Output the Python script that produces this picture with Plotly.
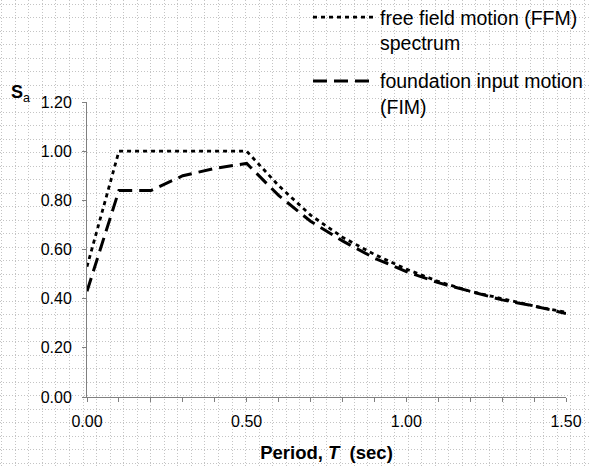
import plotly.graph_objects as go

W, H = 589, 466

period = [0.0, 0.1, 0.2, 0.3, 0.4, 0.5, 0.6, 0.7, 0.8, 0.9, 1.0, 1.1, 1.2, 1.3, 1.4, 1.5]
ffm = [0.53, 1.00, 1.00, 1.00, 1.00, 1.00, 0.86, 0.74, 0.65, 0.58, 0.52, 0.47, 0.43, 0.40, 0.37, 0.345]
fim = [0.43, 0.84, 0.84, 0.90, 0.93, 0.95, 0.82, 0.715, 0.635, 0.565, 0.51, 0.465, 0.43, 0.395, 0.37, 0.34]

x_ticks = [0.0, 0.5, 1.0, 1.5]
x_ticktext = ["0.00", "0.50", "1.00", "1.50"]
y_ticks = [0.0, 0.2, 0.4, 0.6, 0.8, 1.0, 1.2]
y_ticktext = ["0.00", "0.20", "0.40", "0.60", "0.80", "1.00", "1.20"]

names = ["free field motion (FFM)<br>spectrum", "foundation input motion<br>(FIM)"]

FONT = "Liberation Sans, Arial, sans-serif"

# plot area in pixels
L, R, T, B = 87, 566, 102, 397

fig = go.Figure()

# invisible trace to create the background (paper grid) subplot
fig.add_trace(go.Scatter(x=[None], y=[None], xaxis="x", yaxis="y",
                         showlegend=False, hoverinfo="skip"))

fig.add_trace(go.Scatter(
    x=period, y=ffm, mode="lines", name=names[0],
    line=dict(color="black", width=2.8, dash="4px,4px"),
    xaxis="x2", yaxis="y2", legendgroup="a"))
fig.add_trace(go.Scatter(
    x=period, y=fim, mode="lines", name=names[1],
    line=dict(color="black", width=3, dash="14px,7px"),
    xaxis="x2", yaxis="y2", legendgroup="b"))

grid_style = dict(showgrid=True, gridcolor="#c4c4c4", gridwidth=1, griddash="1px,2px",
                  zeroline=False, showticklabels=False, ticks="", showline=False,
                  fixedrange=True, automargin=False)

fig.update_layout(
    width=W, height=H,
    margin=dict(l=0, r=0, t=0, b=0, autoexpand=False),
    paper_bgcolor="white",
    plot_bgcolor="rgba(0,0,0,0)",
    font=dict(family=FONT, color="black", size=16),
    xaxis=dict(domain=[0, 1], range=[0, W], tick0=1.7, dtick=13.55, anchor="y", **grid_style),
    yaxis=dict(domain=[0, 1], range=[H, 0], tick0=4.2, dtick=13.5, anchor="x", **grid_style),
    xaxis2=dict(
        domain=[L / W, R / W], range=[0, 1.5], anchor="y2", automargin=False,
        showgrid=False, zeroline=False, showline=True, linecolor="#808080", linewidth=1,
        ticks="outside", ticklen=4, tickcolor="#808080", tickwidth=1,
        tickvals=x_ticks, ticktext=x_ticktext, ticklabelstandoff=6,
        minor=dict(dtick=0.1, tick0=0, ticks="outside", ticklen=4, tickcolor="#808080", showgrid=False),
        tickfont=dict(size=16, family=FONT),
        title=dict(text="<b>Period, <i>T</i>  (sec)</b>", font=dict(size=18.5, family=FONT), standoff=16),
        fixedrange=True,
    ),
    yaxis2=dict(
        domain=[(H - B) / H, (H - T) / H], range=[0, 1.2], anchor="x2", automargin=False,
        showgrid=False, zeroline=False, showline=True, linecolor="#808080", linewidth=1,
        ticks="outside", ticklen=4, tickcolor="#808080", tickwidth=1,
        tickvals=y_ticks, ticktext=y_ticktext, ticklabelstandoff=7,
        tickfont=dict(size=16, family=FONT),
        fixedrange=True,
    ),
    legend=dict(
        x=308 / W, y=1 + 2 / H, xanchor="left", yanchor="top",
        bgcolor="rgba(0,0,0,0)", borderwidth=0,
        font=dict(size=19.5, family=FONT),
        itemwidth=62, valign="top", traceorder="grouped", tracegroupgap=10,
    ),
    showlegend=True,
    annotations=[
        dict(text="<b>S</b><sub>a</sub>", x=9 / W, y=1 - 94 / H, xref="paper", yref="paper",
             xanchor="left", yanchor="middle", showarrow=False,
             font=dict(size=18, family=FONT)),
    ],
)

fig.write_html("out.html", config={"displayModeBar": False},
               post_script="document.body.style.margin='0';")
